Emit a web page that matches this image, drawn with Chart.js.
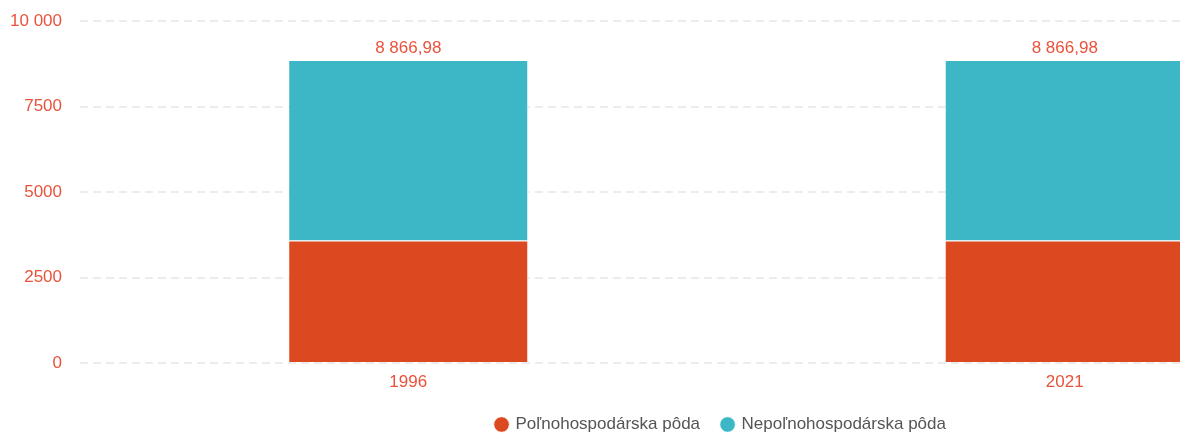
<!DOCTYPE html>
<html>
<head>
<meta charset="utf-8">
<script src="https://cdn.jsdelivr.net/npm/chart.js@4.4.0/dist/chart.umd.min.js"></script>
<style>
  html, body { margin: 0; padding: 0; background: #fff; overflow: hidden; }
  #wrap { width: 1442px; height: 443px; position: relative; }
</style>
</head>
<body>
<div id="wrap"><canvas id="landChart"></canvas></div>
<script>
// data
var years=[ "1996", "2021" ];
var polnohospodarska=[ 3585, 3585 ];
var nepolnohospodarska=[ 5281.98, 5281.98 ];
var yTicks=[ 0, 2500, 5000, 7500, 10000 ];

var textRed="#E9533B";
var fontFamily="Arial, 'Liberation Sans', sans-serif";

function groupSpace( str )
{
        return str.replace( /\B(?=(\d{3})+(?!\d))/g, " " );
}

// sk style: grouping only from 5 digits for ticks, always for totals
function tickFormat( v )
{
        return v>=10000 ? groupSpace( String( v ) ) : String( v );
}

function totalFormat( v )
{
        var parts=v.toFixed( 2 ).split( "." );
        return groupSpace( parts[ 0 ] )+","+parts[ 1 ];
}

// totals above each stack
var totalsPlugin={
        id: "totals",
        afterDatasetsDraw: function( chart )
        {
                var ctx=chart.ctx;
                var last=chart.getDatasetMeta( chart.data.datasets.length-1 );
                ctx.save();
                ctx.fillStyle=textRed;
                ctx.font="17px "+fontFamily;
                ctx.textAlign="center";
                ctx.textBaseline="bottom";
                years.forEach( function( y, i )
                {
                        var total=0;
                        chart.data.datasets.forEach( function( ds ) { total+=ds.data[ i ]; } );
                        var bar=last.data[ i ];
                        ctx.fillText( totalFormat( total ), bar.x, bar.y-3 );
                } );
                ctx.restore();
        }
};

var ctx=document.getElementById( "landChart" ).getContext( "2d" );
var landChart=new Chart( ctx, {
        type: "bar",
        plugins: [ totalsPlugin ],
        data: {
                labels: years,
                datasets: [ {
                        label: "Poľnohospodárska pôda",
                        data: polnohospodarska,
                        backgroundColor: "#DC481F",
                        borderColor: "rgba(255,255,255,0.8)",
                        borderWidth: 1
                },
                {
                        label: "Nepoľnohospodárska pôda",
                        data: nepolnohospodarska,
                        backgroundColor: "#3DB7C6",
                        borderColor: "rgba(255,255,255,0.8)",
                        borderWidth: 1
                } ]
        },
        options: {
                responsive: true,
                maintainAspectRatio: false,
                animation: false,
                layout: {
                        padding: 0
                },
                datasets: {
                        bar: { categoryPercentage: 1, barPercentage: 0.3656 }
                },
                scales: {
                        x: {
                                stacked: true,
                                grid: { display: false },
                                border: { display: false },
                                ticks: {
                                        color: textRed,
                                        padding: 3,
                                        font: { family: fontFamily, size: 17, lineHeight: 1 }
                                }
                        },
                        y: {
                                stacked: true,
                                min: 0,
                                max: 10000,
                                afterBuildTicks: function( axis )
                                {
                                        axis.ticks=yTicks.map( function( v ) { return { value: v }; } );
                                },
                                afterFit: function( axis )
                                {
                                        axis.width=80;
                                },
                                grid: {
                                        color: "#ececec",
                                        lineWidth: 2,
                                        tickLength: 7,
                                        tickColor: "rgba(0,0,0,0)"
                                },
                                border: { display: false, dash: [ 8, 5 ] },
                                ticks: {
                                        color: textRed,
                                        padding: 11,
                                        font: { family: fontFamily, size: 17 },
                                        callback: function( v ) { return tickFormat( v ); }
                                }
                        },
                        // empty right gutter so the legend stays centred on the whole canvas
                        gutter: {
                                type: "linear",
                                position: "right",
                                grid: { display: false },
                                border: { display: false },
                                ticks: { display: false },
                                afterFit: function( axis )
                                {
                                        axis.width=49;
                                }
                        }
                },
                plugins: {
                        legend: {
                                position: "bottom",
                                labels: {
                                        usePointStyle: true,
                                        pointStyle: "circle",
                                        boxWidth: 11,
                                        boxHeight: 11,
                                        padding: 22,
                                        color: "#555",
                                        font: { family: fontFamily, size: 17 }
                                }
                        },
                        tooltip: { enabled: false }
                }
        }
} );
</script>
</body>
</html>
